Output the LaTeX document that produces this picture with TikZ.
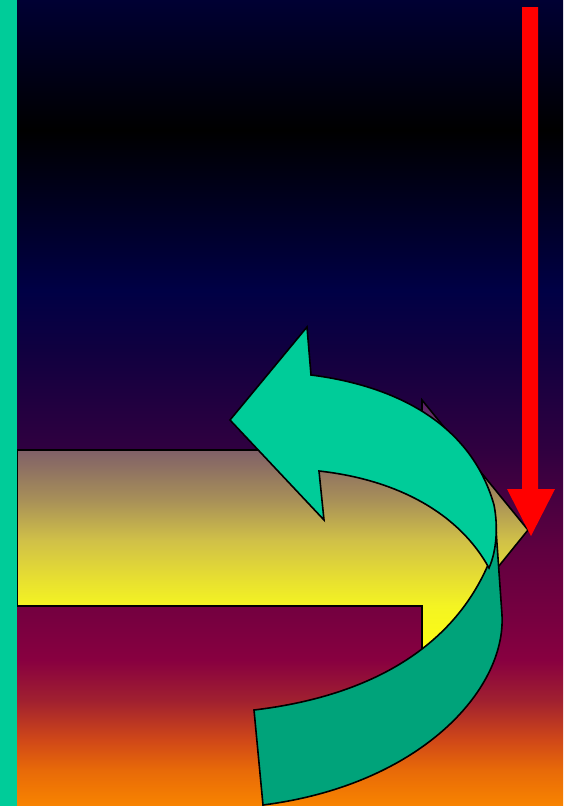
\documentclass[tikz,border=0pt]{standalone}
\definecolor{bgA}{HTML}{F88400}
\definecolor{bgB}{HTML}{E86A08}
\definecolor{bgC}{HTML}{D04818}
\definecolor{bgD}{HTML}{A02030}
\definecolor{bgE}{HTML}{880040}
\definecolor{bgF}{HTML}{780040}
\definecolor{bgG}{HTML}{600040}
\definecolor{bgH}{HTML}{300040}
\definecolor{bgI}{HTML}{100040}
\definecolor{bgJ}{HTML}{000045}
\definecolor{bgK}{HTML}{000000}
\definecolor{bgL}{HTML}{000033}
\definecolor{yA}{HTML}{5A1A68}
\definecolor{yB}{HTML}{806068}
\definecolor{yC}{HTML}{A89058}
\definecolor{yD}{HTML}{D0C048}
\definecolor{yE}{HTML}{E8E030}
\definecolor{yF}{HTML}{F4F422}
\definecolor{yG}{HTML}{FFFF10}
\definecolor{teallight}{HTML}{00CC99}
\definecolor{tealdark}{HTML}{00A37A}
\definecolor{redarrow}{HTML}{FF0000}
\pgfdeclareverticalshading{bgshade}{100bp}{color(0bp)=(bgA); color(25bp)=(bgA); color(27.23bp)=(bgB); color(29.09bp)=(bgC); color(31.58bp)=(bgD); color(34.06bp)=(bgE); color(36.54bp)=(bgF); color(40.88bp)=(bgG); color(47.09bp)=(bgH); color(53.29bp)=(bgI); color(57bp)=(bgJ); color(66.94bp)=(bgK); color(75bp)=(bgL); color(100bp)=(bgL)}
\pgfdeclareverticalshading{yshade}{100bp}{color(0bp)=(yG); color(25bp)=(yG); color(35.54bp)=(yF); color(40.52bp)=(yE); color(48.18bp)=(yD); color(55.84bp)=(yC); color(65.42bp)=(yB); color(75bp)=(yA); color(100bp)=(yA)}
\begin{document}
\begin{tikzpicture}[x=1pt,y=-1pt,
  outl/.style={draw=black, line width=1.6pt, line join=miter}]
\path[use as bounding box] (0,0) rectangle (563,806);
\fill[shading=bgshade] (0,0) rectangle (563,806);
% big yellow arrow
\path[shading=yshade]
  (17,450) -- (422,450) -- (422,400) -- (528,530) -- (422,661) -- (422,606) -- (17,606) -- cycle;
\draw[outl]
  (17,450) -- (422,450) -- (422,400) -- (528,530) -- (422,661) -- (422,606) -- (17,606) -- cycle;
% red arrow
\fill[redarrow] (522,7) -- (538,7) -- (538,489) -- (555,489) -- (531,536) -- (507,489) -- (522,489) -- cycle;
% dark back band of curved arrow
\draw[outl, fill=tealdark]
  (254,710) .. controls (380,695) and (460,640) .. (492,555)
  .. controls (495,545) and (496,530) .. (495,515)
  -- (502,615) .. controls (506,690) and (420,785) .. (263,805) -- cycle;
% light front of curved arrow
\draw[outl, fill=teallight]
  (311,375) -- (307,327) -- (230,420) -- (324,520) -- (319,471)
  .. controls (400,480) and (460,515) .. (489,568)
  .. controls (497,550) and (498,525) .. (494,505)
  .. controls (470,420) and (390,385) .. (311,375) -- cycle;
% left bar
\fill[teallight] (0,0) rectangle (17,806);
\end{tikzpicture}
\end{document}
